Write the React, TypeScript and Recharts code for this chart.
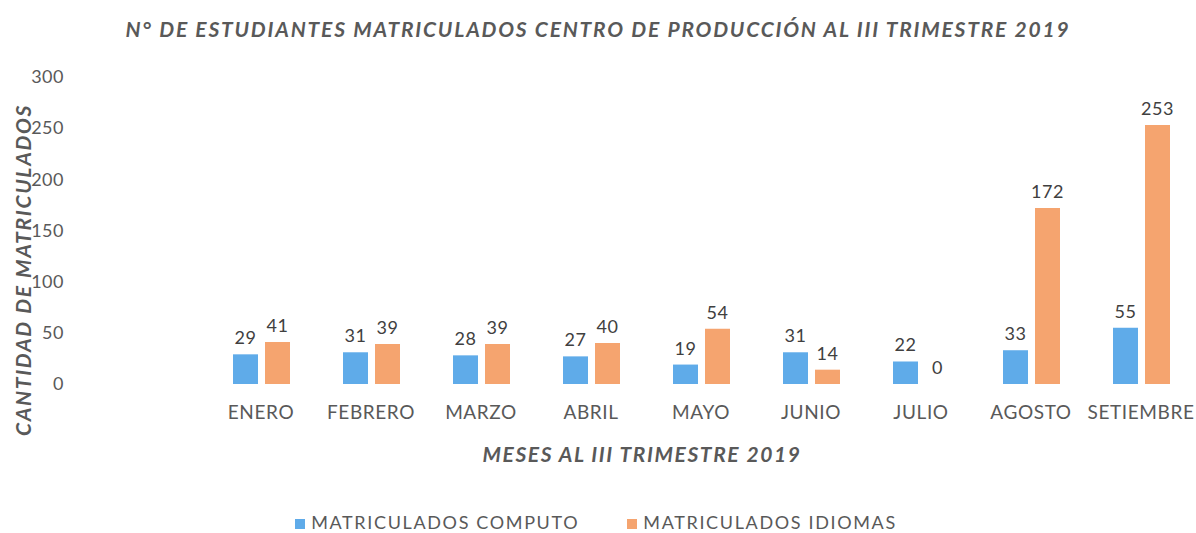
import React from 'react';
import {Bar, BarChart, Label, LabelList, Legend, XAxis, YAxis} from 'recharts';

const MESES = ['ENERO', 'FEBRERO', 'MARZO', 'ABRIL', 'MAYO', 'JUNIO', 'JULIO', 'AGOSTO', 'SETIEMBRE'];
const COMPUTO = [29, 31, 28, 27, 19, 31, 22, 33, 55];
const IDIOMAS = [41, 39, 39, 40, 54, 14, 0, 172, 253];
const Y_TICKS = [0, 50, 100, 150, 200, 250, 300];

const FONT = 'Lato, "Open Sans", sans-serif';
const GRIS = '#595959';
const AZUL = '#5fabe9';
const NARANJA = '#f5a46f';

const data = MESES.map((mes, i) => ({mes, computo: COMPUTO[i], idiomas: IDIOMAS[i]}));

const YTick = (props: any) => (
  <text x={64} y={props.y} dy="0.35em" textAnchor="end" fill={GRIS} fontSize={18} fontFamily={FONT} letterSpacing={0.5}>
    {props.payload.value}
  </text>
);

// etiqueta de valor sobre cada barra (también para valores 0)
const ValueLabel = (props: any) => {
  const {x, y, width, value} = props;
  return (
    <text
      x={Number(x) + Number(width) / 2}
      y={Number(y) - 10}
      textAnchor="middle"
      fill="#404040"
      fontSize={18}
      fontFamily={FONT}
      letterSpacing={0.5}
    >
      {value}
    </text>
  );
};

// barra casi invisible para que el 0 también tenga etiqueta
const minCero = (value: number) => (value === 0 ? 0.01 : 0);

export default function App() {
  return (
    <div style={{position: 'absolute', left: 0, top: 0, width: 1196, height: 533, background: '#fff', fontFamily: FONT}}>
      <div
        style={{
          position: 'absolute',
          left: 0,
          width: 1196,
          top: 16,
          textAlign: 'center',
          color: GRIS,
          fontSize: 21,
          fontWeight: 700,
          fontStyle: 'italic',
          letterSpacing: 1.8,
        }}
      >
        N° DE ESTUDIANTES MATRICULADOS CENTRO DE PRODUCCIÓN AL III TRIMESTRE 2019
      </div>
      <BarChart
        width={1196}
        height={533}
        data={data}
        margin={{top: 77, right: 0, bottom: 0, left: 0}}
        barCategoryGap={26}
        barGap={7}
      >
        <XAxis
          dataKey="mes"
          height={127}
          axisLine={false}
          tickLine={false}
          tickMargin={16}
          interval={0}
          tick={{fill: GRIS, fontSize: 19, fontFamily: FONT, letterSpacing: 0.6}}
        >
          <Label
            value="MESES AL III TRIMESTRE 2019"
            position="insideTop"
            offset={63}
            dx={-59}
            fill={GRIS}
            fontSize={21}
            fontWeight={700}
            fontStyle="italic"
            fontFamily={FONT}
            letterSpacing={1.6}
          />
        </XAxis>
        <YAxis
          width={206}
          domain={[0, 300]}
          ticks={Y_TICKS}
          axisLine={false}
          tickLine={false}
          tick={<YTick />}
        >
          <Label
            content={() => (
              <text
                transform="translate(22,270) rotate(-90)"
                textAnchor="middle"
                dominantBaseline="central"
                fill={GRIS}
                fontSize={21}
                fontWeight={700}
                fontStyle="italic"
                fontFamily={FONT}
                letterSpacing={1.7}
              >
                CANTIDAD DE MATRICULADOS
              </text>
            )}
          />
        </YAxis>
        <Legend
          verticalAlign="bottom"
          align="center"
          iconType="square"
          iconSize={10}
          wrapperStyle={{fontSize: 18, fontFamily: FONT, left: 3, letterSpacing: 1.65}}
          formatter={(value: string, entry: any, index: number) => (
            <span style={{color: GRIS, marginLeft: 2, marginRight: index === 0 ? 38 : 0}}>{value}</span>
          )}
        />
        <Bar
          dataKey="computo"
          name="MATRICULADOS COMPUTO"
          fill={AZUL}
          barSize={25}
          minPointSize={minCero}
          isAnimationActive={false}
        >
          <LabelList dataKey="computo" content={<ValueLabel />} />
        </Bar>
        <Bar
          dataKey="idiomas"
          name="MATRICULADOS IDIOMAS"
          fill={NARANJA}
          barSize={25}
          minPointSize={minCero}
          isAnimationActive={false}
        >
          <LabelList dataKey="idiomas" content={<ValueLabel />} />
        </Bar>
      </BarChart>
    </div>
  );
}
